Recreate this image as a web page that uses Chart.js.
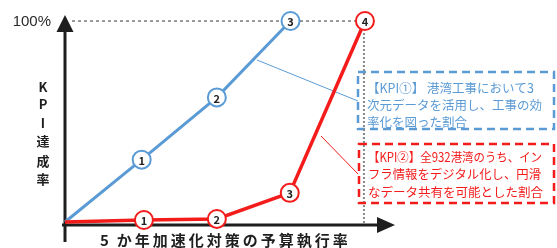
<!DOCTYPE html>
<html>
<head>
<meta charset="utf-8">
<script src="https://cdn.jsdelivr.net/npm/chart.js@4"></script>
<style>
  body { margin: 0; background: #fff; }
</style>
</head>
<body>
<canvas id="myChart" width="557" height="248"></canvas>
<script>
// progress of budget execution (x) vs KPI achievement % (y)
const blueX = [0, 1.02, 2.02, 3.0]
const blueY = [0, 31, 62, 100]
const blueLabels = ['', '1', '2', '3']

const redX = [0, 1.05, 2.02, 2.99, 3.99]
const redY = [0, 1, 1.5, 14.5, 100]
const redLabels = ['', '1', '2', '3', '4']

const yTickLabel = '100%'
const xTitle = '5 か年加速化対策の予算執行率'
const yTitle = ['K', 'P', 'I', '達', '成', '率']
const kpi1Text = ['【KPI①】 港湾工事において3', '次元データを活用し、工事の効', '率化を図った割合']
const kpi2Text = ['【KPI②】全932港湾のうち、イン', 'フラ情報をデジタル化し、円滑', 'なデータ共有を可能とした割合']

const BLUE = '#5b9bd5'
const RED = '#f41b1b'
const JP = '"Noto Sans CJK JP", "Noto Sans", sans-serif'

const toPts = (xs, ys) => xs.map((x, i) => ({ x: x, y: ys[i] }))

const decor = {
  id: 'decor',
  beforeDatasetsDraw(chart) {
    const ctx = chart.ctx
    const xs = chart.scales.x, ys = chart.scales.y
    const ox = xs.getPixelForValue(0)
    const axY = 225
    const top = ys.getPixelForValue(100)
    const red4 = chart.getDatasetMeta(0).data[4]
    ctx.save()

    // 100% dashed line
    ctx.strokeStyle = '#333'
    ctx.lineWidth = 1
    ctx.setLineDash([3, 3])
    ctx.beginPath()
    ctx.moveTo(ox + 7, top)
    ctx.lineTo(red4.x - 10, top)
    ctx.stroke()

    // gray dotted vertical
    ctx.strokeStyle = '#888'
    ctx.lineWidth = 2
    ctx.setLineDash([2, 2])
    ctx.beginPath()
    ctx.moveTo(red4.x - 1, top + 12)
    ctx.lineTo(red4.x - 1, axY)
    ctx.stroke()
    ctx.setLineDash([])

    // connectors
    ctx.lineWidth = 1
    ctx.strokeStyle = BLUE
    ctx.beginPath()
    ctx.moveTo(257, 60)
    ctx.lineTo(358, 101)
    ctx.stroke()
    ctx.strokeStyle = RED
    ctx.beginPath()
    ctx.moveTo(321, 136)
    ctx.lineTo(358, 174)
    ctx.stroke()

    // axes
    ctx.strokeStyle = '#1e1e1e'
    ctx.fillStyle = '#1e1e1e'
    ctx.lineWidth = 3
    ctx.beginPath()
    ctx.moveTo(ox, 242)
    ctx.lineTo(ox, 30)
    ctx.moveTo(ox - 3, axY)
    ctx.lineTo(379, axY)
    ctx.stroke()
    ctx.beginPath()
    ctx.moveTo(ox, 15)
    ctx.lineTo(ox - 8.5, 32)
    ctx.lineTo(ox + 8.5, 32)
    ctx.closePath()
    ctx.fill()
    ctx.beginPath()
    ctx.moveTo(395, axY)
    ctx.lineTo(377, axY - 8)
    ctx.lineTo(377, axY + 8)
    ctx.closePath()
    ctx.fill()
    ctx.restore()
  },
  afterDatasetsDraw(chart) {
    const ctx = chart.ctx
    const ys = chart.scales.y
    ctx.save()

    // point numbers
    ctx.textAlign = 'center'
    ctx.textBaseline = 'middle'
    ctx.font = 'bold 11px ' + JP
    ctx.fillStyle = '#222'
    const sets = [redLabels, blueLabels]
    sets.forEach((labels, di) => {
      chart.getDatasetMeta(di).data.forEach((p, i) => {
        if (labels[i]) ctx.fillText(labels[i], p.x, p.y + 1)
      })
    })

    // tick label
    ctx.font = '15px "Liberation Sans", sans-serif'
    ctx.fillStyle = '#2a2a2a'
    ctx.textAlign = 'right'
    ctx.fillText(yTickLabel, 51, ys.getPixelForValue(100) + 1)

    // y title
    ctx.textAlign = 'center'
    ctx.font = 'bold 13px ' + JP
    ctx.fillStyle = '#1e1e1e'
    const yPos = [87, 104, 123, 141, 161, 179]
    yTitle.forEach((c, i) => ctx.fillText(c, 43, yPos[i]))

    // x title
    ctx.font = 'bold 15px ' + JP
    ctx.textAlign = 'left'
    let cx = 100
    for (const c of xTitle) {
      if (c === ' ') { cx += 5; continue }
      ctx.fillText(c, cx, 240)
      cx += ctx.measureText(c).width + 3
    }

    // annotation boxes
    const box = (x, y, w, h, color, lines, ty, lh, widths) => {
      ctx.fillStyle = '#fff'
      ctx.fillRect(x, y, w, h)
      ctx.strokeStyle = color
      ctx.lineWidth = 2.5
      ctx.setLineDash([8, 5])
      ctx.strokeRect(x, y, w, h)
      ctx.setLineDash([])
      ctx.fillStyle = color
      ctx.font = '12.5px ' + JP
      ctx.textAlign = 'left'
      lines.forEach((t, i) => ctx.fillText(t, x + 9, ty + i * lh, widths[i]))
    }
    box(358, 72, 196, 57, BLUE, kpi1Text, 88, 17, [178, 177, 120])
    box(359, 144, 195, 59, RED, kpi2Text, 157, 17.5, [174, 173, 182])

    // gray dotted over boxes
    const red4 = chart.getDatasetMeta(0).data[4]
    ctx.strokeStyle = '#888'
    ctx.lineWidth = 2
    ctx.setLineDash([2, 2])
    ctx.beginPath()
    ctx.moveTo(red4.x - 1, 73)
    ctx.lineTo(red4.x - 1, 202)
    ctx.stroke()
    ctx.restore()
  }
}

new Chart(document.getElementById('myChart'), {
  type: 'line',
  data: {
    datasets: [{
      data: toPts(redX, redY),
      borderColor: RED,
      borderWidth: 3.5,
      pointRadius: [0, 9, 9, 9, 9],
      pointBorderWidth: 2,
      pointBorderColor: RED,
      pointBackgroundColor: '#fff',
      clip: false
    }, {
      data: toPts(blueX, blueY),
      borderColor: BLUE,
      borderWidth: 3,
      pointRadius: [0, 9, 9, 9],
      pointBorderWidth: 2,
      pointBorderColor: BLUE,
      pointBackgroundColor: '#fff',
      clip: false
    }]
  },
  options: {
    responsive: false,
    animation: false,
    layout: { padding: { left: 65, right: 162, top: 15, bottom: 22 } },
    plugins: { legend: { display: false }, tooltip: { enabled: false } },
    scales: {
      x: { type: 'linear', display: false, min: 0, max: 4.39 },
      y: { display: false, min: -2, max: 103 }
    }
  },
  plugins: [decor]
})
</script>
</body>
</html>
